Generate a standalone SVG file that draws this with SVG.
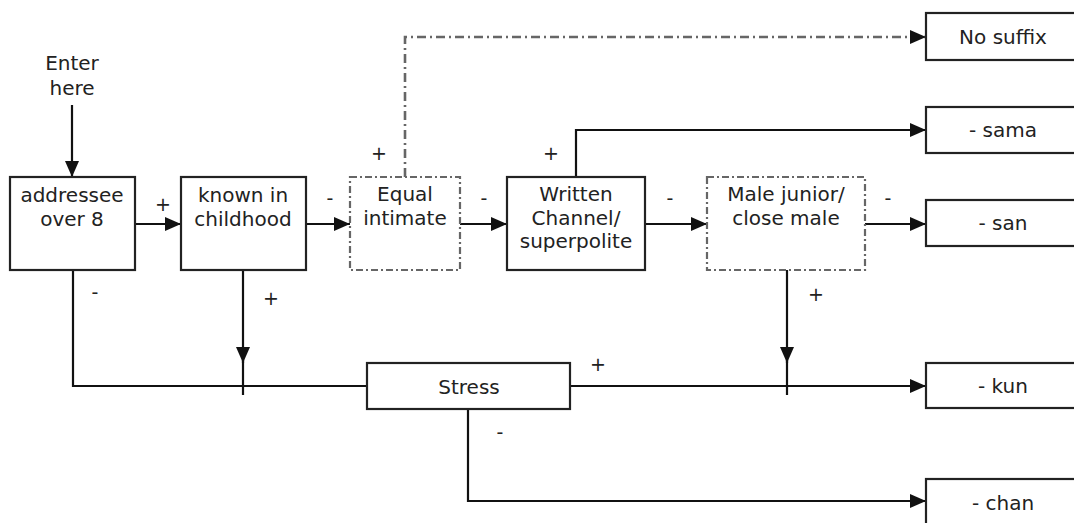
<svg xmlns="http://www.w3.org/2000/svg" width="1074" height="523" viewBox="0 0 1074 523">
<defs>
<style>
text{font-family:"DejaVu Sans",Verdana,sans-serif;font-size:20px;fill:#222;text-anchor:middle}
.sign{font-size:19px}
.box{fill:#fff;stroke:#222;stroke-width:2.2}
.dbox{fill:#fff;stroke:#666;stroke-width:2.2;stroke-dasharray:7 3 2 3}
.ln{fill:none;stroke:#111;stroke-width:2.2}
.arr{fill:none;stroke:#111;stroke-width:2.2;marker-end:url(#ah)}
.dd{fill:none;stroke:#666;stroke-width:2.6;stroke-dasharray:9 4 2 4;marker-end:url(#ah)}
</style>
<marker id="ah" viewBox="0 0 16 14" refX="16" refY="7" markerWidth="16" markerHeight="14" markerUnits="userSpaceOnUse" orient="auto"><path d="M0,0 L16,7 L0,14 z" fill="#111"/></marker>
</defs>
<g id="connectors">
<path class="arr" d="M72,105 V177"/>
<path class="arr" d="M135,224 H181"/>
<path class="arr" d="M306,224 H350"/>
<path class="arr" d="M460,224 H507"/>
<path class="arr" d="M645,224 H707"/>
<path class="arr" d="M865,224 H926"/>
<path class="dd" d="M405,177 V37 H926"/>
<path class="arr" d="M576,177 V130 H926"/>
<path class="ln" d="M73,270 V386 H367"/>
<path class="arr" d="M243,270 V363"/>
<path class="ln" d="M243,360 V395"/>
<path class="arr" d="M570,386 H926"/>
<path class="arr" d="M787,270 V363"/>
<path class="ln" d="M787,360 V395"/>
<path class="arr" d="M468,409 V501 H926"/>
</g>
<g id="enter"><text x="72" y="70">Enter</text><text x="72" y="95">here</text></g>
<g id="addressee"><rect class="box" x="10" y="177" width="125" height="93"/><text x="72" y="202">addressee</text><text x="72" y="226">over 8</text></g>
<g id="known"><rect class="box" x="181" y="177" width="125" height="93"/><text x="243" y="202">known in</text><text x="243" y="226">childhood</text></g>
<g id="equal"><rect class="dbox" x="350" y="177" width="110" height="93"/><text x="405" y="201">Equal</text><text x="405" y="225">intimate</text></g>
<g id="written"><rect class="box" x="507" y="177" width="138" height="93"/><text x="576" y="201">Written</text><text x="576" y="225">Channel/</text><text x="576" y="248">superpolite</text></g>
<g id="male"><rect class="dbox" x="707" y="177" width="158" height="93"/><text x="786" y="201">Male junior/</text><text x="786" y="225">close male</text></g>
<g id="stress"><rect class="box" x="367" y="363" width="203" height="46"/><text x="469" y="394">Stress</text></g>
<g id="nosuffix"><rect class="box" x="926" y="13" width="154" height="47"/><text x="1003" y="44">No suffix</text></g>
<g id="sama"><rect class="box" x="926" y="107" width="154" height="46"/><text x="1003" y="137">- sama</text></g>
<g id="san"><rect class="box" x="926" y="200" width="154" height="46"/><text x="1003" y="230">- san</text></g>
<g id="kun"><rect class="box" x="926" y="363" width="154" height="45"/><text x="1003" y="393">- kun</text></g>
<g id="chan"><rect class="box" x="926" y="479" width="154" height="50"/><text x="1003" y="510">- chan</text></g>
<g id="signs">
<text class="sign" x="163" y="211">+</text>
<text class="sign" x="330" y="205">-</text>
<text class="sign" x="379" y="160">+</text>
<text class="sign" x="484" y="205">-</text>
<text class="sign" x="551" y="160">+</text>
<text class="sign" x="670" y="205">-</text>
<text class="sign" x="888" y="205">-</text>
<text class="sign" x="95" y="299">-</text>
<text class="sign" x="271" y="305">+</text>
<text class="sign" x="816" y="301">+</text>
<text class="sign" x="598" y="371">+</text>
<text class="sign" x="500" y="439">-</text>
</g>
</svg>
